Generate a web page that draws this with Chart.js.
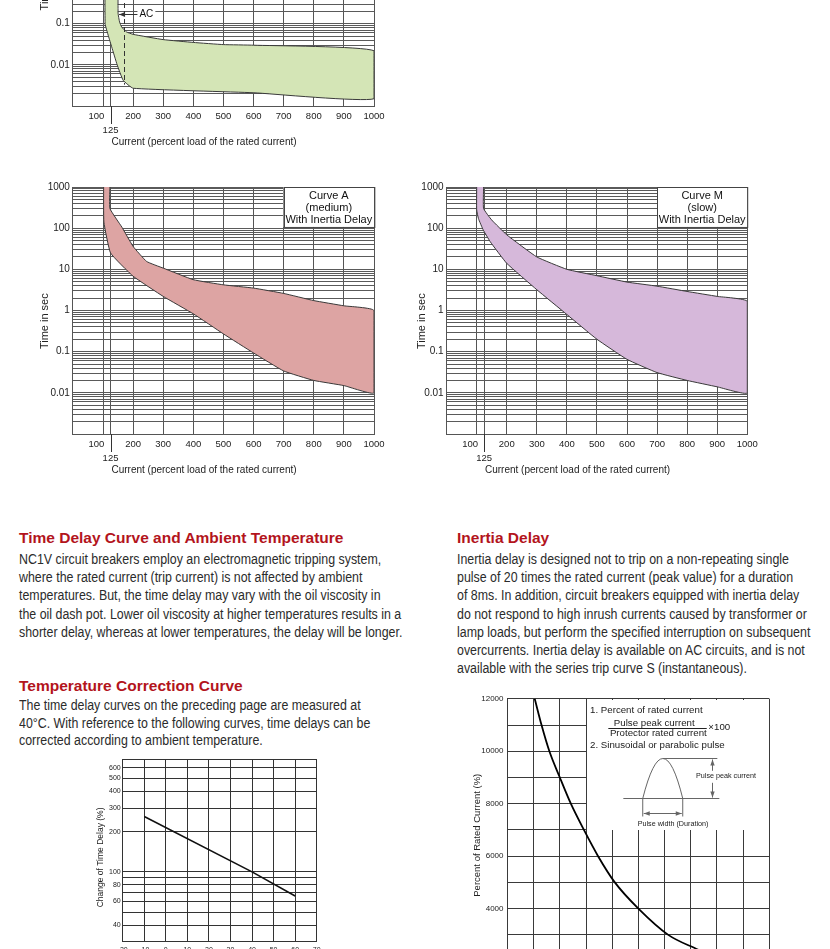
<!DOCTYPE html>
<html>
<head>
<meta charset="utf-8">
<script src="https://cdn.jsdelivr.net/npm/chart.js@4.4.1/dist/chart.umd.min.js"></script>
<style>
  html, body { margin: 0; padding: 0; background: #fff; width: 830px; height: 949px; overflow: hidden; }
  #page { position: relative; width: 830px; height: 949px; overflow: hidden; }
  canvas { position: absolute; }
  .h { position: absolute; font: bold 15.5px "Liberation Sans", Arial, sans-serif; color: #b3141c; white-space: nowrap; line-height: 18px; }
  .p { position: absolute; font: 14px "Liberation Sans", Arial, sans-serif; color: #2b2b2b; white-space: nowrap; line-height: 18.2px;
       transform: scaleX(0.885); transform-origin: 0 0; }
</style>
</head>
<body>
<div id="page">
  <canvas id="curveAC" width="390" height="305" style="left:0;top:-153px"></canvas>
  <canvas id="curveA" width="390" height="305" style="left:0;top:175px"></canvas>
  <canvas id="curveM" width="390" height="305" style="left:374px;top:175px"></canvas>
  <canvas id="tempChart" width="260" height="220" style="left:75px;top:750px"></canvas>
  <canvas id="pulseChart" width="325" height="296" style="left:455px;top:690px"></canvas>

  <div class="h" style="left:19px;top:529px">Time Delay Curve and Ambient Temperature</div>
  <div class="p" style="left:19px;top:550px">NC1V circuit breakers employ an electromagnetic tripping system,<br>where the rated current (trip current) is not affected by ambient<br>temperatures. But, the time delay may vary with the oil viscosity in<br>the oil dash pot. Lower oil viscosity at higher temperatures results in a<br>shorter delay, whereas at lower temperatures, the delay will be longer.</div>

  <div class="h" style="left:457px;top:529px">Inertia Delay</div>
  <div class="p" style="left:457px;top:550px">Inertia delay is designed not to trip on a non-repeating single<br>pulse of 20 times the rated current (peak value) for a duration<br>of 8ms. In addition, circuit breakers equipped with inertia delay<br>do not respond to high inrush currents caused by transformer or<br>lamp loads, but perform the specified interruption on subsequent<br>overcurrents. Inertia delay is available on AC circuits, and is not<br>available with the series trip curve S (instantaneous).</div>

  <div class="h" style="left:19px;top:677px">Temperature Correction Curve</div>
  <div class="p" style="left:19px;top:697px;line-height:17.5px">The time delay curves on the preceding page are measured at<br>40°C. With reference to the following curves, time delays can be<br>corrected according to ambient temperature.</div>
</div>

<script>
// ---- data ----
const currentTicks = [100, 125, 200, 300, 400, 500, 600, 700, 800, 900, 1000];
const timeLabels = [0.01, 0.1, 1, 10, 100, 1000];
const timeDecades = [0.001, 0.01, 0.1, 1, 10, 100];

// curve AC (top, cut off by the page)
const acUpperX = [150, 150, 155, 162, 178, 200, 300, 400, 500, 600, 1000];
const acUpperY = [1000, 0.18, 0.11, 0.083, 0.063, 0.055, 0.041, 0.035, 0.031, 0.03, 0.022];
const acLowerX = [107, 107, 118, 129, 147, 167, 200, 600, 1000];
const acLowerY = [1000, 0.1, 0.05, 0.027, 0.01, 0.0042, 0.0027, 0.0021, 0.0015];

// curve A (medium)
const aUpperX = [123, 123, 163, 200, 245, 300, 400, 500, 600, 700, 800, 900, 1000];
const aUpperY = [1000, 300, 105, 36, 15.5, 10.7, 5.6, 4.2, 3.5, 2.6, 1.74, 1.3, 1.0];
const aLowerX = [102, 103, 125, 200, 300, 400, 500, 600, 700, 800, 900, 1000];
const aLowerY = [1000, 140, 25, 6.8, 2.2, 0.83, 0.27, 0.093, 0.034, 0.02, 0.015, 0.01];

// curve M (slow)
const mUpperX = [123, 123, 150, 200, 300, 400, 500, 600, 700, 800, 900, 1000];
const mUpperY = [1000, 300, 158, 69, 20, 10, 7, 4.9, 3.9, 2.9, 2.2, 1.66];
const mLowerX = [100, 100, 106, 122, 145, 200, 300, 400, 500, 600, 700, 800, 900, 1000];
const mLowerY = [1000, 280, 170, 90, 47, 14, 3.2, 0.8, 0.2, 0.065, 0.031, 0.02, 0.014, 0.01];

// temperature correction
const tempX = [-10, 40, 60];
const tempY = [260, 100, 66];
const tempTicksX = [-20, -10, 0, 10, 20, 30, 40, 50, 60, 70];
const tempGridY = [30, 40, 50, 60, 70, 80, 90, 100, 200, 300, 400, 500, 600, 700];
const tempLabelsY = [40, 60, 80, 100, 200, 300, 400, 500, 600];

// inertia delay pulse
const pulseWidthX = [1.04, 1.3, 1.6, 2.0, 2.42, 2.92, 3.46, 4.1, 5.0, 6.14, 7.29];
const pulseCurrentY = [12000, 11000, 10000, 9000, 8000, 7000, 6000, 5000, 4000, 3000, 2430];
const pulseLabelsY = [2000, 4000, 6000, 8000, 10000, 12000];

Chart.defaults.font.family = '"Liberation Sans", Arial, sans-serif';
Chart.defaults.color = '#222';
Chart.defaults.animation = false;

function band(ux, uy, lx, ly) {
  const upper = ux.map((x, i) => ({x: x, y: uy[i]}));
  const lower = lx.map((x, i) => ({x: x, y: ly[i]})).reverse();
  return upper.concat(lower);
}

const timeGrid = [];
timeDecades.forEach(d => { for (let m = 1; m <= 9; m++) timeGrid.push(m * d); });
timeGrid.push(1000);

// box with the curve name, white, top right corner
const noteBox = {
  id: 'note',
  afterDraw(chart, args, opts) {
    if (!opts.lines) return;
    const {ctx, scales: {x, y}} = chart;
    const l = x.getPixelForValue(700), r = x.getPixelForValue(1000);
    const t = y.getPixelForValue(1000), b = y.getPixelForValue(107);
    ctx.save();
    ctx.fillStyle = '#fff';
    ctx.fillRect(l, t, r - l, b - t);
    ctx.strokeStyle = '#444';
    ctx.lineWidth = 1;
    ctx.strokeRect(Math.round(l) + 0.5, Math.round(t) + 0.5, r - l, b - t);
    ctx.fillStyle = '#111';
    ctx.font = '11px "Liberation Sans", Arial, sans-serif';
    ctx.textAlign = 'center';
    ctx.textBaseline = 'middle';
    opts.lines.forEach((s, i) => ctx.fillText(s, (l + r) / 2, t + 8.5 + i * 12.2));
    ctx.restore();
  }
};

// short tick under the 125 line
const mark125 = {
  id: 'mark125',
  afterDraw(chart) {
    const {ctx, scales: {x}, chartArea} = chart;
    const px = Math.round(x.getPixelForValue(125)) + 0.5;
    ctx.save();
    ctx.strokeStyle = '#333';
    ctx.lineWidth = 1;
    ctx.beginPath();
    ctx.moveTo(px, chartArea.bottom);
    ctx.lineTo(px, chartArea.bottom + 18);
    ctx.stroke();
    ctx.restore();
  }
};

// AC marker on the top chart
const acMarker = {
  id: 'acMarker',
  afterDraw(chart, args, opts) {
    if (!opts.show) return;
    const {ctx, scales: {x, y}} = chart;
    const xd = Math.round(x.getPixelForValue(170)) + 0.5;
    ctx.save();
    ctx.strokeStyle = '#333';
    ctx.lineWidth = 1;
    ctx.setLineDash([5, 3]);
    ctx.beginPath();
    ctx.moveTo(xd, y.top);
    ctx.lineTo(xd, y.getPixelForValue(0.0033));
    ctx.stroke();
    ctx.setLineDash([]);
    const ya = Math.round(y.getPixelForValue(0.17)) + 0.5;
    const xa = x.getPixelForValue(150);
    const xe = x.getPixelForValue(217);
    ctx.beginPath();
    ctx.moveTo(xa + 1, ya);
    ctx.lineTo(xe, ya);
    ctx.stroke();
    ctx.fillStyle = '#333';
    ctx.beginPath();
    ctx.moveTo(xa + 1, ya);
    ctx.lineTo(xa + 7, ya - 2.5);
    ctx.lineTo(xa + 7, ya + 2.5);
    ctx.closePath();
    ctx.fill();
    ctx.font = '10px "Liberation Sans", Arial, sans-serif';
    const tx = x.getPixelForValue(221);
    const w = ctx.measureText('AC').width;
    ctx.fillStyle = '#fff';
    ctx.fillRect(tx - 2, ya - 7, w + 4, 13);
    ctx.fillStyle = '#111';
    ctx.textBaseline = 'middle';
    ctx.fillText('AC', tx, ya);
    ctx.restore();
  }
};

function timeChart(id, points, fill, cfg) {
  return new Chart(document.getElementById(id), {
    type: 'line',
    data: {
      datasets: [{
        data: points,
        fill: 'shape',
        backgroundColor: fill,
        borderColor: '#3a3a3a',
        borderWidth: 1,
        pointRadius: 0,
        tension: 0.12
      }]
    },
    options: {
      responsive: false,
      layout: {padding: {left: cfg.padLeft, top: 12, right: cfg.padRight, bottom: 0}},
      plugins: {
        legend: {display: false},
        tooltip: {enabled: false},
        note: {lines: cfg.note},
        acMarker: {show: !!cfg.ac}
      },
      scales: {
        x: {
          type: 'linear', min: 0, max: 1000, z: 1,
          afterBuildTicks: a => { a.ticks = currentTicks.map(v => ({value: v})); },
          afterFit: a => { a.height = 46; },
          ticks: {
            autoSkip: false, maxRotation: 0, padding: 3,
            font: {size: 9.5, lineHeight: 1.5},
            callback: v => v === 125 ? ['', '125'] : (v === 100 ? '100     ' : String(v))
          },
          grid: {color: '#555', drawTicks: false},
          border: {color: '#555'},
          title: {display: true, text: 'Current (percent load of the rated current)              ',
                  font: {size: 10}, padding: {top: 0, bottom: 4}}
        },
        y: {
          type: 'logarithmic', min: 0.001, max: 1000, z: 1,
          afterBuildTicks: a => { a.ticks = timeGrid.map(v => ({value: v})); },
          afterFit: a => { a.width = cfg.yWidth; },
          ticks: {
            autoSkip: false, padding: 3, font: {size: 10},
            callback: v => timeLabels.includes(v) ? String(v) : ''
          },
          grid: {color: '#5a5a5a', drawTicks: false},
          border: {color: '#555'},
          title: {display: true, text: cfg.yTitle, font: {size: 11}, padding: {top: 4, bottom: 0}}
        }
      }
    },
    plugins: [noteBox, mark125, acMarker]
  });
}

timeChart('curveAC', band(acUpperX, acUpperY, acLowerX, acLowerY), '#d4e5b6',
  {padLeft: 34.4, padRight: 16, yWidth: 38.5, ac: true, yTitle: 'Time in sec'});
timeChart('curveA', band(aUpperX, aUpperY, aLowerX, aLowerY), '#dda4a3',
  {padLeft: 34.4, padRight: 16, yWidth: 38.5, yTitle: 'Time in sec       ',
   note: ['Curve A', '(medium)', 'With Inertia Delay']});
timeChart('curveM', band(mUpperX, mUpperY, mLowerX, mLowerY), '#d6b8da',
  {padLeft: 37.1, padRight: 16.7, yWidth: 35.5, yTitle: 'Time in sec       ',
   note: ['Curve M', '(slow)', 'With Inertia Delay']});

// temperature correction curve
new Chart(document.getElementById('tempChart'), {
  type: 'line',
  data: {
    datasets: [{
      data: tempX.map((x, i) => ({x: x, y: tempY[i]})),
      borderColor: '#111', borderWidth: 1.6, pointRadius: 0, fill: false, tension: 0
    }]
  },
  options: {
    responsive: false,
    layout: {padding: {left: 16.6, top: 9, right: 18.3, bottom: 0}},
    plugins: {legend: {display: false}, tooltip: {enabled: false}},
    scales: {
      x: {
        type: 'linear', min: -20, max: 70,
        afterBuildTicks: a => { a.ticks = tempTicksX.map(v => ({value: v})); },
        afterFit: a => { a.height = 28.3; },
        ticks: {autoSkip: false, maxRotation: 0, padding: 4.5, font: {size: 7}},
        grid: {color: '#333', drawTicks: false},
        border: {color: '#333'}
      },
      y: {
        type: 'logarithmic', min: 30, max: 700,
        afterBuildTicks: a => { a.ticks = tempGridY.map(v => ({value: v})); },
        afterFit: a => { a.width = 31.1; },
        ticks: {autoSkip: false, padding: 2, font: {size: 7},
                callback: v => tempLabelsY.includes(v) ? String(v) : ''},
        grid: {color: '#333', drawTicks: false},
        border: {color: '#333'},
        title: {display: true, text: 'Change of Time Delay (%)      ', font: {size: 8.5}, padding: {top: 4, bottom: 0}}
      }
    }
  }
});

// legend box of the pulse chart
const pulseNote = {
  id: 'pulseNote',
  beforeDatasetsDraw(chart) {
    const {ctx, scales: {x, y}} = chart;
    const l = Math.round(x.getPixelForValue(3)) + 1, r = Math.round(x.getPixelForValue(10));
    const t = Math.round(y.getPixelForValue(12000)) + 1, b = Math.round(y.getPixelForValue(7000));
    ctx.save();
    ctx.fillStyle = '#fff';
    ctx.fillRect(l, t, r - l, b - t);
    const ox = x.getPixelForValue(3), oy = y.getPixelForValue(12000);
    ctx.fillStyle = '#1a1a1a';
    ctx.textBaseline = 'middle';
    ctx.font = '9.7px "Liberation Sans", Arial, sans-serif';
    ctx.textAlign = 'left';
    ctx.fillText('1. Percent of rated current', ox + 4, oy + 11.7);
    ctx.fillText('2. Sinusoidal or parabolic pulse', ox + 4, oy + 46.7);
    ctx.textAlign = 'center';
    ctx.fillText('Pulse peak current', ox + 68.2, oy + 24.2);
    ctx.fillText('Protector rated current', ox + 72.3, oy + 35);
    ctx.textAlign = 'left';
    ctx.fillText('×100', ox + 122.3, oy + 28.7);
    ctx.strokeStyle = '#222';
    ctx.lineWidth = 1;
    ctx.beginPath();
    ctx.moveTo(ox + 22.3, Math.round(oy + 29.4) + 0.5);
    ctx.lineTo(ox + 120.7, Math.round(oy + 29.4) + 0.5);
    ctx.stroke();

    // pulse sketch
    ctx.strokeStyle = '#666';
    const base = Math.round(oy + 99.4) + 0.5, top = Math.round(oy + 59.4) + 0.5;
    ctx.beginPath();
    ctx.moveTo(ox + 37.3, base); ctx.lineTo(ox + 133.3, base);
    ctx.moveTo(ox + 56.7, base); ctx.quadraticCurveTo(ox + 77, base - 2 * (base - top), ox + 96.7, base);
    ctx.moveTo(ox + 77, top); ctx.lineTo(ox + 131.3, top);
    ctx.moveTo(ox + 56.7, base); ctx.lineTo(ox + 56.7, oy + 117.7);
    ctx.moveTo(ox + 96.7, base); ctx.lineTo(ox + 96.7, oy + 117.7);
    const ax = Math.round(ox + 125.7) + 0.5;
    ctx.moveTo(ax, top + 1); ctx.lineTo(ax, oy + 72);
    ctx.moveTo(ax, oy + 84); ctx.lineTo(ax, base - 1);
    const hy = Math.round(oy + 114.4) + 0.5;
    ctx.moveTo(ox + 57.7, hy); ctx.lineTo(ox + 95.7, hy);
    ctx.stroke();
    ctx.fillStyle = '#666';
    const head = (x0, y0, dx, dy) => {
      ctx.beginPath();
      ctx.moveTo(x0, y0);
      ctx.lineTo(x0 - dx * 6 - dy * 2.2, y0 - dy * 6 - dx * 2.2);
      ctx.lineTo(x0 - dx * 6 + dy * 2.2, y0 - dy * 6 + dx * 2.2);
      ctx.closePath();
      ctx.fill();
    };
    head(ax, top + 1, 0, -1);
    head(ax, base - 1, 0, 1);
    head(ox + 57.7, hy, -1, 0);
    head(ox + 95.7, hy, 1, 0);
    ctx.fillStyle = '#1a1a1a';
    ctx.font = '7.2px "Liberation Sans", Arial, sans-serif';
    ctx.textAlign = 'left';
    ctx.fillText('Pulse peak current', ox + 110, oy + 77.7);
    ctx.textAlign = 'center';
    ctx.fillText('Pulse width (Duration)', ox + 87, oy + 125);
    ctx.restore();
  }
};

new Chart(document.getElementById('pulseChart'), {
  type: 'line',
  data: {
    datasets: [{
      data: pulseWidthX.map((x, i) => ({x: x, y: pulseCurrentY[i]})),
      borderColor: '#000', borderWidth: 1.8, pointRadius: 0, fill: false,
      cubicInterpolationMode: 'monotone'
    }]
  },
  options: {
    responsive: false,
    layout: {padding: {left: 13, top: 7.3, right: 10.7, bottom: 0}},
    plugins: {legend: {display: false}, tooltip: {enabled: false}},
    scales: {
      x: {
        type: 'linear', min: 0, max: 10,
        afterFit: a => { a.height = 24.9; },
        ticks: {stepSize: 1, autoSkip: false, maxRotation: 0, font: {size: 8}},
        grid: {color: '#3a3a3a', drawTicks: false},
        border: {color: '#3a3a3a'}
      },
      y: {
        type: 'linear', min: 2000, max: 12000,
        afterFit: a => { a.width = 39.5; },
        ticks: {stepSize: 1000, autoSkip: false, padding: 4, font: {size: 8},
                callback: v => pulseLabelsY.includes(v) ? String(v) : ''},
        grid: {color: '#3a3a3a', drawTicks: false},
        border: {color: '#3a3a3a'},
        title: {display: true, text: 'Percent of Rated Current (%)    ', font: {size: 9.5}, padding: {top: 4, bottom: 0}}
      }
    }
  },
  plugins: [pulseNote]
});
</script>
</body>
</html>
